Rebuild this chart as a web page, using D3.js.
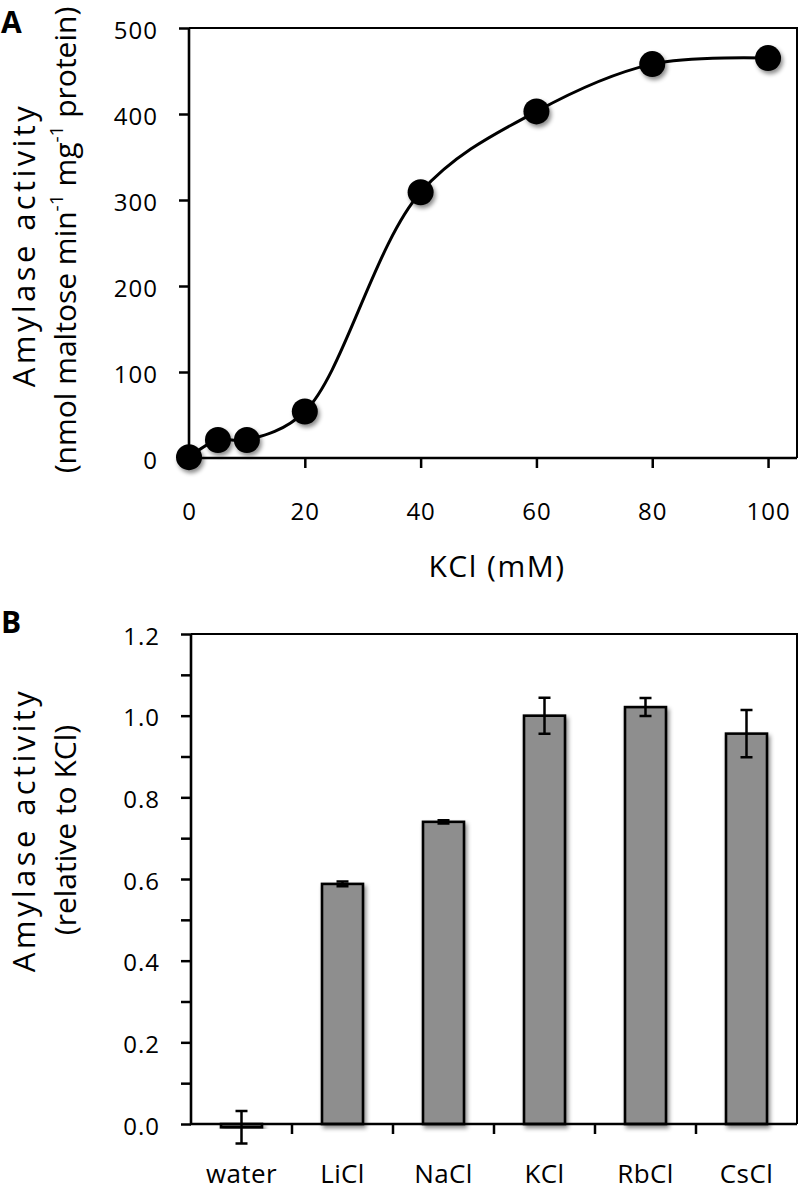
<!DOCTYPE html>
<html><head><meta charset="utf-8">
<script src="https://cdn.jsdelivr.net/npm/d3@7"></script>
<style>body{margin:0;background:#fff}svg{display:block}text{font-family:"Open Sans",sans-serif;fill:#000}</style>
</head><body>
<script>
// Panel A data
const kclConc = [0, 5, 10, 20, 40, 60, 80, 100];
const kclActivity = [1, 21, 21, 54, 309, 403, 458, 465];
const aXTicks = [0, 20, 40, 60, 80, 100];
const aYTicks = [0, 100, 200, 300, 400, 500];
// Panel B data
const salts = ["water", "LiCl", "NaCl", "KCl", "RbCl", "CsCl"];
const relActivity = [-0.008, 0.588, 0.740, 1.000, 1.021, 0.956];
const relError = [0.040, 0.006, 0.004, 0.044, 0.022, 0.058];
const bYTicks = [0, 0.2, 0.4, 0.6, 0.8, 1.0, 1.2];
const bYMinor = [0.1, 0.3, 0.5, 0.7, 0.9, 1.1];

const W = 800, H = 1192, FS = 24;
const svg = d3.select("body").append("svg").attr("width", W).attr("height", H);
const defs = svg.append("defs");
const f = defs.append("filter").attr("id", "sh").attr("x", "-50%").attr("y", "-50%").attr("width", "200%").attr("height", "200%");
f.append("feDropShadow").attr("dx", 2).attr("dy", 3).attr("stdDeviation", 2.2).attr("flood-color", "#000").attr("flood-opacity", 0.45);

function styleAxis(g) {
  g.select(".domain").remove();
  g.attr("font-family", null).attr("font-size", null);
  g.selectAll(".tick line").attr("stroke", "#000").attr("stroke-width", 2.5);
  g.selectAll(".tick text").attr("font-size", FS).attr("letter-spacing", 1);
}

// ---------- Panel A ----------
const ax = d3.scaleLinear().domain([0, 105]).range([189, 797]);
const ay = d3.scaleLinear().domain([0, 500]).range([458, 28]);
const gA = svg.append("g");
gA.append("path").attr("d", `M${ax(0)},${ay(500)}H${ax(105)}V${ay(0)}`).attr("fill", "none").attr("stroke", "#000").attr("stroke-width", 2);
gA.append("path").attr("d", `M${ax(0)},${ay(500)}V${ay(0)}H${ax(105)}`).attr("fill", "none").attr("stroke", "#000").attr("stroke-width", 2.6);
const gAy = gA.append("g").attr("transform", `translate(${ax(0)},0)`)
  .call(d3.axisLeft(ay).tickValues(aYTicks).tickSize(10).tickPadding(21).tickFormat(d3.format("d")));
styleAxis(gAy);
gAy.selectAll(".tick text").attr("dy", "0.42em");
const gAx = gA.append("g").attr("transform", `translate(0,${ay(0)})`)
  .call(d3.axisBottom(ax).tickValues(aXTicks).tickSize(10).tickFormat(d3.format("d")));
styleAxis(gAx);
gAx.selectAll(".tick line").filter(d => d === 0).remove();
gAx.selectAll(".tick text").attr("y", 62).attr("dy", 0);

const line = d3.line().x((d, i) => ax(kclConc[i])).y(d => ay(d)).curve(d3.curveCatmullRom.alpha(0.5));
gA.append("path").attr("d", line(kclActivity)).attr("fill", "none").attr("stroke", "#000").attr("stroke-width", 3);
gA.selectAll("circle.pt").data(kclActivity).join("circle").attr("class", "pt")
  .attr("cx", (d, i) => ax(kclConc[i])).attr("cy", d => ay(d)).attr("r", 13)
  .attr("fill", "#000").attr("filter", "url(#sh)");

gA.append("text").attr("x", 497).attr("y", 577).attr("text-anchor", "middle").attr("font-size", 30).attr("letter-spacing", 1.5).text("KCl (mM)");
const ylA = gA.append("g").attr("transform", "translate(35,245) rotate(-90)");
ylA.append("text").attr("text-anchor", "middle").attr("font-size", 31).attr("letter-spacing", 3.4).text("Amylase activity");
const t2 = ylA.append("text").attr("y", 41).attr("x", 5).attr("text-anchor", "middle").attr("font-size", 30);
t2.append("tspan").text("(nmol maltose min");
t2.append("tspan").attr("baseline-shift", "super").attr("font-size", 19).text("-1");
t2.append("tspan").text(" mg");
t2.append("tspan").attr("baseline-shift", "super").attr("font-size", 19).text("-1");
t2.append("tspan").text(" protein)");
svg.append("text").attr("x", 1).attr("y", 33).attr("font-family", "Liberation Sans").attr("font-weight", "bold").attr("font-size", 30).text("A");

// ---------- Panel B ----------
const bx = d3.scaleBand().domain(salts).range([191, 797]).padding(0);
const by = d3.scaleLinear().domain([0, 1.2]).range([1124, 634]);
const gB = svg.append("g");
gB.append("path").attr("d", `M${191},${by(1.2)}H797V${by(0)}`).attr("fill", "none").attr("stroke", "#000").attr("stroke-width", 2);
const gBy = gB.append("g").attr("transform", `translate(191,0)`)
  .call(d3.axisLeft(by).tickValues(bYTicks.concat(bYMinor)).tickSize(10).tickPadding(21)
    .tickFormat(d => bYMinor.includes(d) ? "" : d3.format(".1f")(d)));
styleAxis(gBy);
gBy.selectAll(".tick text").attr("dy", "0.42em");
const bounds = salts.slice(1).map(s => bx(s));
gB.selectAll("line.bt").data(bounds).join("line").attr("class", "bt")
  .attr("x1", d => d).attr("x2", d => d).attr("y1", by(0)).attr("y2", by(0) + 10)
  .attr("stroke", "#000").attr("stroke-width", 2.5);
const bw = 41;
gB.selectAll("rect.bar").data(relActivity).join("rect").attr("class", "bar")
  .attr("x", (d, i) => bx(salts[i]) + bx.bandwidth() / 2 - bw / 2)
  .attr("y", d => Math.min(by(d), by(0)))
  .attr("width", bw).attr("height", d => Math.abs(by(0) - by(d)))
  .attr("fill", "#8e8e8e").attr("stroke", "#000").attr("stroke-width", 2.6).attr("filter", "url(#sh)");
gB.append("path").attr("d", `M191,${by(1.2)}V${by(0)}H797`).attr("fill", "none").attr("stroke", "#000").attr("stroke-width", 2.6);
const eb = gB.selectAll("g.eb").data(relActivity).join("g").attr("class", "eb")
  .attr("transform", (d, i) => `translate(${bx(salts[i]) + bx.bandwidth() / 2},0)`);
eb.append("path").attr("d", (d, i) => {
  const t = by(d + relError[i]), b = by(d - relError[i]);
  return `M-6,${t}H6M0,${t}V${b}M-6,${b}H6`;
}).attr("fill", "none").attr("stroke", "#000").attr("stroke-width", 2.5);
gB.selectAll("text.cat").data(salts).join("text").attr("class", "cat")
  .attr("x", d => bx(d) + bx.bandwidth() / 2).attr("y", 1183).attr("text-anchor", "middle")
  .attr("font-size", 26).attr("letter-spacing", 0.4).text(d => d);
const ylB = gB.append("g").attr("transform", "translate(35,830) rotate(-90)");
ylB.append("text").attr("text-anchor", "middle").attr("font-size", 31).attr("letter-spacing", 3.4).text("Amylase activity");
ylB.append("text").attr("y", 41).attr("text-anchor", "middle").attr("font-size", 30).text("(relative to KCl)");
svg.append("text").attr("x", 1).attr("y", 633).attr("font-family", "Liberation Sans").attr("font-weight", "bold").attr("font-size", 30).text("B");
</script>
</body></html>
